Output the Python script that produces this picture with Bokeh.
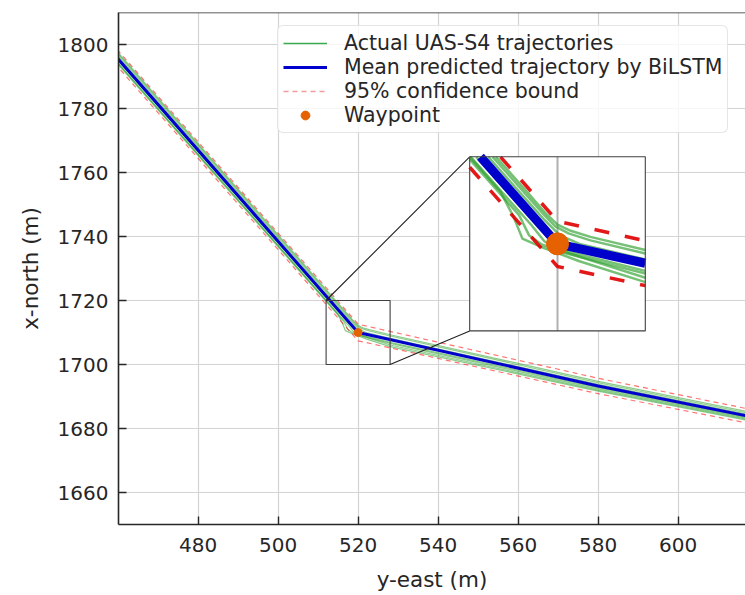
import math
from bokeh.plotting import figure
from bokeh.models import Range1d, FixedTicker, Legend, LegendItem, Span
from bokeh.embed import file_html
from bokeh.resources import INLINE

# ---------------- data ----------------
x_ticks = [480, 500, 520, 540, 560, 580, 600]
y_ticks = [1660, 1680, 1700, 1720, 1740, 1760, 1780, 1800]

mean_x = [455.0, 520.0, 580.0, 625.0]
mean_y = [1802.6, 1710.0, 1693.3, 1682.0]

upper_x = [456.8, 520.0, 580.0, 625.0]
upper_y = [1802.6, 1712.6, 1695.7, 1684.2]
lower_x = [453.2, 519.3, 520.0, 580.0, 625.0]
lower_y = [1802.6, 1708.4, 1707.4, 1690.9, 1679.8]

traj1_x = [456.4, 517.2, 519.0, 520.0, 521.2, 523.0, 528.0, 580.0, 625.0]
traj1_y = [1802.6, 1716.0, 1713.4, 1712.2, 1711.5, 1710.8, 1709.3, 1694.7, 1683.3]
traj2_x = [456.1, 516.9, 518.8, 519.8, 521.0, 523.0, 528.0, 580.0, 625.0]
traj2_y = [1802.6, 1716.0, 1713.3, 1712.0, 1711.2, 1710.4, 1708.9, 1694.3, 1682.9]
traj3_x = [455.7, 516.5, 518.7, 520.2, 522.0, 528.0, 580.0, 625.0]
traj3_y = [1802.6, 1716.0, 1712.9, 1711.0, 1710.0, 1708.2, 1693.8, 1682.5]
traj4_x = [454.6, 515.4, 518.2, 519.5, 521.0, 528.0, 580.0, 625.0]
traj4_y = [1802.6, 1716.0, 1712.0, 1710.2, 1709.1, 1706.9, 1692.8, 1681.6]
traj5_x = [454.1, 514.9, 517.6, 518.8, 520.5, 528.0, 580.0, 625.0]
traj5_y = [1802.6, 1716.0, 1712.2, 1710.3, 1709.0, 1706.6, 1692.4, 1681.3]
traj6_x = [453.8, 514.6, 516.5, 517.4, 518.6, 528.0, 580.0, 625.0]
traj6_y = [1802.6, 1716.0, 1713.3, 1711.0, 1709.9, 1706.1, 1692.0, 1681.0]
traj7_x = [454.0, 514.8, 516.0, 516.8, 518.4, 522.0, 528.0, 580.0, 625.0]
traj7_y = [1802.6, 1716.0, 1713.1, 1710.6, 1709.7, 1708.0, 1705.6, 1691.7, 1680.7]

trajectories = [(traj1_x, traj1_y), (traj2_x, traj2_y), (traj3_x, traj3_y),
                (traj4_x, traj4_y), (traj5_x, traj5_y), (traj6_x, traj6_y),
                (traj7_x, traj7_y)]

waypoint_x = [520.0]
waypoint_y = [1710.0]

# zoomed region (data) and where the inset sits (in main-axes data units)
zoom_x0, zoom_x1 = 512.0, 528.0
zoom_y0, zoom_y1 = 1700.0, 1720.0
inset_grid_x = [520.0]
ins_x0, ins_x1 = 547.9, 591.8
ins_y0, ins_y1 = 1710.5, 1764.9

# ---------------- styles ----------------
FONT = "DejaVu Sans"
TXT = "#262626"
GREEN = "#2ca02c"
BLUE = "#0000cd"
RED = "#ff0000"
ORANGE = "#e66100"
NAN = float("nan")


def tx(x):
    return ins_x0 + (x - zoom_x0) * (ins_x1 - ins_x0) / (zoom_x1 - zoom_x0)


def ty(y):
    return ins_y0 + (y - zoom_y0) * (ins_y1 - ins_y0) / (zoom_y1 - zoom_y0)


def clip_seg(x0, y0, x1, y1):
    dx, dy = x1 - x0, y1 - y0
    u0, u1 = 0.0, 1.0
    for pi, qi in ((-dx, x0 - zoom_x0), (dx, zoom_x1 - x0),
                   (-dy, y0 - zoom_y0), (dy, zoom_y1 - y0)):
        if pi == 0:
            if qi < 0:
                return None
        else:
            t = qi / pi
            if pi < 0:
                u0 = max(u0, t)
            else:
                u1 = min(u1, t)
    if u0 > u1:
        return None
    return (x0 + u0 * dx, y0 + u0 * dy, x0 + u1 * dx, y0 + u1 * dy)


def inset_poly(xs, ys):
    ox, oy = [], []
    last = None
    for i in range(len(xs) - 1):
        c = clip_seg(xs[i], ys[i], xs[i + 1], ys[i + 1])
        if c is None:
            continue
        a = (c[0], c[1])
        b = (c[2], c[3])
        if last is None or abs(last[0] - a[0]) > 1e-9 or abs(last[1] - a[1]) > 1e-9:
            if ox:
                ox.append(NAN)
                oy.append(NAN)
            ox.append(tx(a[0]))
            oy.append(ty(a[1]))
        ox.append(tx(b[0]))
        oy.append(ty(b[1]))
        last = b
    return ox, oy


p = figure(width=745, height=595, output_backend="svg", toolbar_location=None,
           x_range=Range1d(460.1, 616.85), y_range=Range1d(1650.0, 1810.0),
           min_border_left=118, min_border_right=0, min_border_top=12,
           min_border_bottom=71)
p.outline_line_color = None
p.background_fill_color = "white"
p.border_fill_color = "white"

for g in (p.xgrid, p.ygrid):
    g.grid_line_color = "#d4d4d4"
    g.grid_line_width = 1.2
p.xgrid.ticker = FixedTicker(ticks=x_ticks)
p.ygrid.ticker = FixedTicker(ticks=y_ticks)

p.xaxis.ticker = FixedTicker(ticks=x_ticks)
p.yaxis.ticker = FixedTicker(ticks=y_ticks)
p.xaxis.axis_label = "y-east (m)"
p.yaxis.axis_label = "x-north (m)"
for ax in (p.xaxis[0], p.yaxis[0]):
    ax.axis_line_color = TXT
    ax.axis_line_width = 1.6
    ax.major_tick_line_color = TXT
    ax.major_tick_line_width = 1.4
    ax.major_tick_in = 8
    ax.major_tick_out = 0
    ax.minor_tick_line_color = None
    ax.major_label_text_font = FONT
    ax.major_label_text_font_size = "20px"
    ax.major_label_text_color = TXT
    ax.axis_label_text_font = FONT
    ax.axis_label_text_font_size = "21.5px"
    ax.axis_label_text_font_style = "normal"
    ax.axis_label_text_color = TXT
p.xaxis.major_label_standoff = 13
p.yaxis.major_label_standoff = 10
p.xaxis.axis_label_standoff = 12
p.yaxis.axis_label_standoff = 12

p.add_layout(Span(location=1810.0, dimension="width", line_color=TXT, line_width=1.6))

# ---------------- main plot ----------------
for xs, ys in trajectories:
    p.line(xs, ys, line_color=GREEN, line_width=1.2, line_alpha=0.55)
p.line(upper_x, upper_y, line_color=RED, line_width=1.2, line_alpha=0.55, line_dash="5 4")
p.line(lower_x, lower_y, line_color=RED, line_width=1.2, line_alpha=0.55, line_dash="5 4")
blue_r = p.line(mean_x, mean_y, line_color=BLUE, line_width=3)
wp_r = p.scatter(waypoint_x, waypoint_y, size=8, color=ORANGE)

# legend swatches (a single undefined point: nothing is drawn in the plot)
green_proxy = p.line(x=[NAN], y=[NAN], line_color="#3cab4f", line_width=1.3)
red_proxy = p.line(x=[NAN], y=[NAN], line_color="#f59a9a", line_width=1.3, line_dash="5 4")

# zoom rectangle and connectors
p.quad(left=[zoom_x0], right=[zoom_x1], bottom=[zoom_y0], top=[zoom_y1],
       fill_color=None, line_color="#404040", line_width=1.1)
p.line([zoom_x0, ins_x0], [zoom_y1, ins_y1], line_color="#202020", line_width=1.1)
p.line([zoom_x1, ins_x0], [zoom_y0, ins_y0], line_color="#202020", line_width=1.1)

# ---------------- inset ----------------
p.quad(left=[ins_x0], right=[ins_x1], bottom=[ins_y0], top=[ins_y1],
       fill_color="white", line_color=None)
for gx in inset_grid_x:
    p.line([tx(gx), tx(gx)], [ty(zoom_y0), ty(zoom_y1)], line_color="#b0b0b0", line_width=2)
for xs, ys in trajectories:
    ix, iy = inset_poly(xs, ys)
    p.line(ix, iy, line_color=GREEN, line_width=2.5, line_alpha=0.65)
for xs, ys in ((upper_x, upper_y), (lower_x, lower_y)):
    ix, iy = inset_poly(xs, ys)
    p.line(ix, iy, line_color="#e00000", line_width=3.5, line_alpha=0.9, line_dash="15 16")
ix, iy = inset_poly(mean_x, mean_y)
p.line(ix, iy, line_color=BLUE, line_width=9)
p.scatter([tx(v) for v in waypoint_x], [ty(v) for v in waypoint_y], size=22, color=ORANGE)
p.quad(left=[ins_x0], right=[ins_x1], bottom=[ins_y0], top=[ins_y1],
       fill_color=None, line_color="#404040", line_width=1.1)

# ---------------- legend ----------------
legend = Legend(items=[
    LegendItem(label="Actual UAS-S4 trajectories", renderers=[green_proxy]),
    LegendItem(label="Mean predicted trajectory by BiLSTM", renderers=[blue_r]),
    LegendItem(label="95% confidence bound", renderers=[red_proxy]),
    LegendItem(label="Waypoint", renderers=[wp_r]),
], location=(159, 391))
legend.label_text_font = FONT
legend.label_text_font_size = "20.5px"
legend.label_text_color = TXT
legend.glyph_width = 44
legend.glyph_height = 22
legend.label_height = 22
legend.label_standoff = 17
legend.spacing = 0
legend.padding = 5
legend.margin = 0
legend.border_line_color = "#cccccc"
legend.border_line_width = 1.2
legend.background_fill_color = "white"
legend.background_fill_alpha = 0.8
try:
    if "border_radius" in Legend.properties():
        legend.border_radius = 6
except Exception:
    pass
p.add_layout(legend)

open("out.html", "w").write(file_html(p, INLINE))
